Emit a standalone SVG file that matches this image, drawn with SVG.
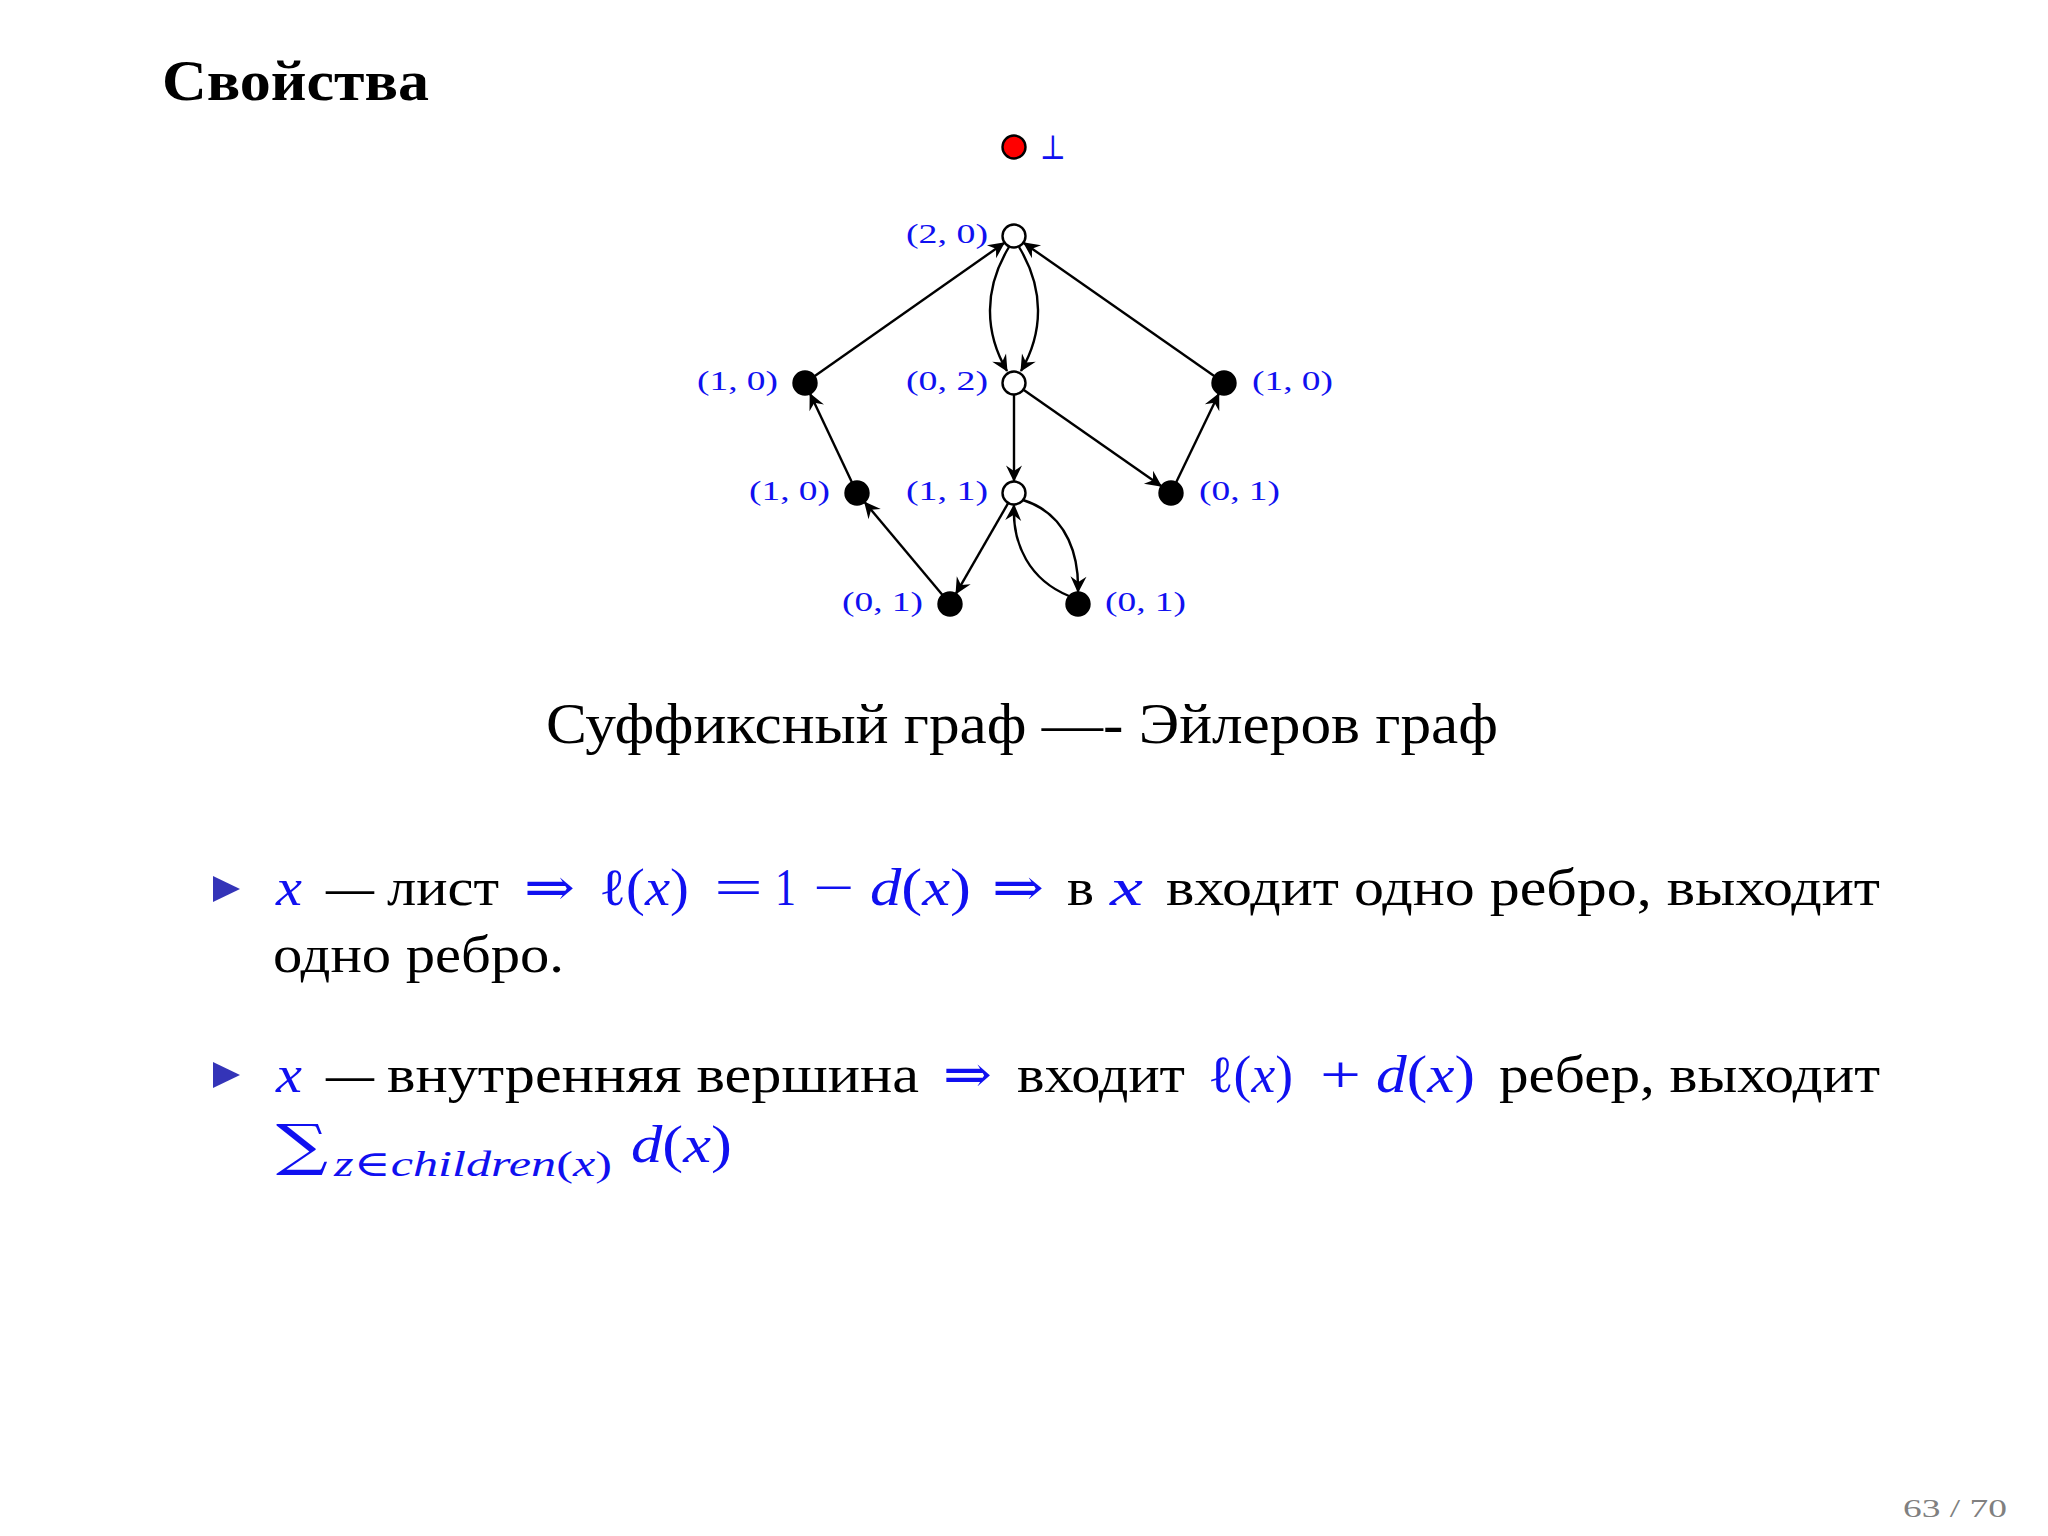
<svg xmlns="http://www.w3.org/2000/svg" width="2048" height="1536" viewBox="0 0 2048 1536">
<style>
.t{font-family:"Liberation Serif","DejaVu Serif",serif;fill:#000}
.b{fill:#1010f0}
.i{font-style:italic}
.lbl{font-family:"Liberation Serif","DejaVu Serif",serif;font-size:28px;fill:#1010f0}
.bt{font-family:"Liberation Serif","DejaVu Serif",serif;font-size:52px}
.e{fill:none;stroke:#000;stroke-width:2.4;marker-end:url(#arr)}
.wn{fill:#fff;stroke:#000;stroke-width:2.4}
.kn{fill:#000;stroke:#000;stroke-width:2.4}
.bul{fill:#3434b8}
</style>
<defs>
<marker id="arr" markerUnits="userSpaceOnUse" viewBox="-18 -10 20 20" markerWidth="20" markerHeight="20" refX="0" refY="0" orient="auto" overflow="visible">
<path d="M1,0 L-15.5,-8 L-10,0 L-15.5,8 Z" fill="#000"/>
</marker>
</defs>
<rect width="2048" height="1536" fill="#fff"/>

<text class="t" x="162" y="100" font-size="56" font-weight="bold" textLength="267" lengthAdjust="spacingAndGlyphs">Свойства</text>

<g id="connectors">
<path class="e" d="M814.8,376.1 L1004.2,242.9"/>
<path class="e" d="M1214.2,376.1 L1023.8,242.9"/>
<path class="e" d="M1009,247 C984,288 984,332 1007,371"/>
<path class="e" d="M1019,247 C1044,288 1044,332 1021,371"/>
<path class="e" d="M1014,395 L1014,481"/>
<path class="e" d="M1023.8,389.9 L1161.2,486.1"/>
<path class="e" d="M1176.2,482.2 L1218.8,393.8"/>
<path class="e" d="M851.9,482.2 L810.1,393.8"/>
<path class="e" d="M1008,503.4 L956,593.6"/>
<path class="e" d="M942.3,594.8 L864.7,502.2"/>
<path class="e" d="M1023,500 C1070,515 1079,560 1078,592"/>
<path class="e" d="M1069,596 C1030,580 1012,545 1014,505"/>
</g>

<g id="n-bot"><circle class="kn" cx="1014" cy="147" r="11.5" style="fill:#f00"/><text x="1040" y="159" font-family="DejaVu Serif,serif" font-size="34" fill="#1010f0" textLength="26" lengthAdjust="spacingAndGlyphs">⊥</text></g>
<g id="n20"><circle class="wn" cx="1014" cy="236" r="11.5"/><text class="lbl" x="906" y="243" textLength="82" lengthAdjust="spacingAndGlyphs">(2, 0)</text></g>
<g id="n02"><circle class="wn" cx="1014" cy="383" r="11.5"/><text class="lbl" x="906" y="390" textLength="82" lengthAdjust="spacingAndGlyphs">(0, 2)</text></g>
<g id="n10L"><circle class="kn" cx="805" cy="383" r="11.5"/><text class="lbl" x="697" y="390" textLength="81" lengthAdjust="spacingAndGlyphs">(1, 0)</text></g>
<g id="n10R"><circle class="kn" cx="1224" cy="383" r="11.5"/><text class="lbl" x="1252" y="390" textLength="81" lengthAdjust="spacingAndGlyphs">(1, 0)</text></g>
<g id="n10M"><circle class="kn" cx="857" cy="493" r="11.5"/><text class="lbl" x="749" y="500" textLength="81" lengthAdjust="spacingAndGlyphs">(1, 0)</text></g>
<g id="n11"><circle class="wn" cx="1014" cy="493" r="11.5"/><text class="lbl" x="906" y="500" textLength="82" lengthAdjust="spacingAndGlyphs">(1, 1)</text></g>
<g id="n01R"><circle class="kn" cx="1171" cy="493" r="11.5"/><text class="lbl" x="1199" y="500" textLength="81" lengthAdjust="spacingAndGlyphs">(0, 1)</text></g>
<g id="n01BL"><circle class="kn" cx="950" cy="604" r="11.5"/><text class="lbl" x="842" y="611" textLength="81" lengthAdjust="spacingAndGlyphs">(0, 1)</text></g>
<g id="n01BR"><circle class="kn" cx="1078" cy="604" r="11.5"/><text class="lbl" x="1105" y="611" textLength="81" lengthAdjust="spacingAndGlyphs">(0, 1)</text></g>

<text class="t" x="546" y="743" font-size="58" textLength="952" lengthAdjust="spacingAndGlyphs">Суффиксный граф —- Эйлеров граф</text>

<g id="bullet1">
<path class="bul" d="M213,876 L240,889 L213,902 Z"/>
<text class="bt b i" x="276" y="905" textLength="26" lengthAdjust="spacingAndGlyphs">x</text>
<text class="bt" x="326" y="905" textLength="48" lengthAdjust="spacingAndGlyphs">—</text>
<text class="bt" x="387" y="905" textLength="112" lengthAdjust="spacingAndGlyphs">лист</text>
<text class="bt b" x="524" y="905" textLength="51" lengthAdjust="spacingAndGlyphs">⇒</text>
<text class="bt b" x="599" y="905" textLength="90" lengthAdjust="spacingAndGlyphs">ℓ(<tspan class="i">x</tspan>)</text>
<text class="bt b" x="714" y="905" textLength="49" lengthAdjust="spacingAndGlyphs">=</text>
<text class="bt b" x="775" y="905" textLength="21" lengthAdjust="spacingAndGlyphs">1</text>
<text class="bt b" x="813" y="905" textLength="41" lengthAdjust="spacingAndGlyphs">−</text>
<text class="bt b" x="870" y="905" textLength="101" lengthAdjust="spacingAndGlyphs"><tspan class="i">d</tspan>(<tspan class="i">x</tspan>)</text>
<text class="bt b" x="992" y="905" textLength="52" lengthAdjust="spacingAndGlyphs">⇒</text>
<text class="bt" x="1067" y="905" textLength="27" lengthAdjust="spacingAndGlyphs">в</text>
<text class="bt b i" x="1110" y="905" textLength="33" lengthAdjust="spacingAndGlyphs">x</text>
<text class="bt" x="1166" y="905" textLength="714" lengthAdjust="spacingAndGlyphs">входит одно ребро, выходит</text>
<text class="bt" x="273" y="972" textLength="291" lengthAdjust="spacingAndGlyphs">одно ребро.</text>
</g>

<g id="bullet2">
<path class="bul" d="M213,1062 L240,1075 L213,1088 Z"/>
<text class="bt b i" x="276" y="1092" textLength="26" lengthAdjust="spacingAndGlyphs">x</text>
<text class="bt" x="326" y="1092" textLength="48" lengthAdjust="spacingAndGlyphs">—</text>
<text class="bt" x="387" y="1092" textLength="532" lengthAdjust="spacingAndGlyphs">внутренняя вершина</text>
<text class="bt b" x="943" y="1092" textLength="49" lengthAdjust="spacingAndGlyphs">⇒</text>
<text class="bt" x="1017" y="1092" textLength="168" lengthAdjust="spacingAndGlyphs">входит</text>
<text class="bt b" x="1208" y="1092" textLength="85" lengthAdjust="spacingAndGlyphs">ℓ(<tspan class="i">x</tspan>)</text>
<text class="bt b" x="1320" y="1092" textLength="41" lengthAdjust="spacingAndGlyphs">+</text>
<text class="bt b" x="1376" y="1092" textLength="99" lengthAdjust="spacingAndGlyphs"><tspan class="i">d</tspan>(<tspan class="i">x</tspan>)</text>
<text class="bt" x="1499" y="1092" textLength="381" lengthAdjust="spacingAndGlyphs">ребер, выходит</text>
<text x="276" y="1164" font-family="DejaVu Serif,serif" font-size="56" fill="#1010f0" textLength="52" lengthAdjust="spacingAndGlyphs">∑</text>
<text class="t b" x="334" y="1176" font-size="36" textLength="278" lengthAdjust="spacingAndGlyphs"><tspan class="i">z</tspan>∈<tspan class="i">children</tspan>(<tspan class="i">x</tspan>)</text>
<text class="bt b" x="631" y="1162" textLength="101" lengthAdjust="spacingAndGlyphs"><tspan class="i">d</tspan>(<tspan class="i">x</tspan>)</text>
</g>

<text class="t" x="1903" y="1517" font-size="26" style="fill:#808080" textLength="104" lengthAdjust="spacingAndGlyphs">63 / 70</text>
</svg>
